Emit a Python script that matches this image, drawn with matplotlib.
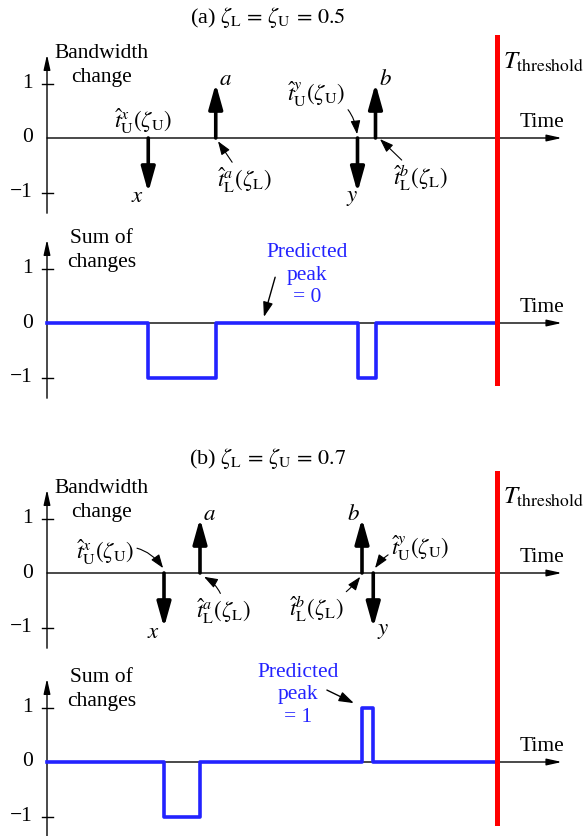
import matplotlib
matplotlib.use("Agg")
import numpy as np
from matplotlib import pyplot as plt

plt.rcParams["font.family"] = ["Liberation Serif", "DejaVu Serif"]
plt.rcParams["mathtext.fontset"] = "stix"

# ---- data -------------------------------------------------------------
titles = [r"(a) $\zeta_{\rm L}\,=\,\zeta_{\rm U}\,=\,0.5$",
          r"(b) $\zeta_{\rm L}\,=\,\zeta_{\rm U}\,=\,0.7$"]
event_names = ["x", "a", "y", "b"]
event_changes = [-1, 1, -1, 1]
event_times_a = [2.25, 3.75, 6.9, 7.3]
event_times_b = [2.6, 3.4, 7.25, 7.0]
t_threshold = 10.0
peak_a = 0
peak_b = 1
tick_values = [1, 0, -1]
tick_labels = ["1", "0", "\u22121"]

# ---- layout helpers -------------------------------------------------
W, H = 584, 836
X0, PX_X, PX_Y = 47, 45.0, 54.5
BLUE = "#2323ff"
FS = 15.5
FM = 16.5

fig = plt.figure(figsize=(W / 100, H / 100), dpi=100)


def make_axes(zero_row):
    ylo, yhi = -2.5, 2.5
    bottom = (H - zero_row + ylo * PX_Y) / H
    height = (yhi - ylo) * PX_Y / H
    ax = fig.add_axes([0, bottom, 1, height])
    ax.set_xlim(-X0 / PX_X, (W - X0) / PX_X)
    ax.set_ylim(ylo, yhi)
    ax.axis("off")
    return ax


def draw_frame(ax, ylabel):
    ax.annotate("", xy=(0, 1.53), xytext=(0, -1.38),
                arrowprops=dict(arrowstyle="-|>,head_length=0.9,head_width=0.2",
                                lw=1.0, color="black", shrinkA=0, shrinkB=0))
    ax.annotate("", xy=(11.44, 0), xytext=(0, 0),
                arrowprops=dict(arrowstyle="-|>,head_length=0.9,head_width=0.2",
                                lw=1.0, color="black", shrinkA=0, shrinkB=0))
    for v, lab in zip(tick_values, tick_labels):
        if v != 0:
            ax.plot([-0.11, 0.13], [v, v], color="black", lw=1.0)
        ax.text(-0.31, v, lab, ha="right", va="center", fontsize=FS)
    ax.text(10.5, 0.29, "Time", ha="left", va="center", fontsize=FS)
    ax.text(1.22, 1.33, ylabel, ha="center", va="center", fontsize=FS,
            linespacing=1.3)


def event_arrow(ax, t, change):
    ax.annotate("", xy=(t, change), xytext=(t, 0),
                arrowprops=dict(arrowstyle="-|>,head_length=1.5,head_width=0.42",
                                lw=2.6, color="black", shrinkA=0, shrinkB=0))


def pointer(ax, text, xy_text, xy_tip, rad, ha="center"):
    ax.annotate(text, xy=xy_tip, xytext=xy_text, ha=ha, va="center", fontsize=FM,
                arrowprops=dict(arrowstyle="-|>,head_length=0.5,head_width=0.18",
                                lw=0.8, color="black", shrinkA=0, shrinkB=0,
                                connectionstyle=f"arc3,rad={rad}"))


def step_sum(ax, times, changes):
    order = np.argsort(times)
    ts = np.asarray(times)[order]
    cs = np.cumsum(np.asarray(changes)[order])
    xs = np.concatenate([[0], ts, [t_threshold]])
    ys = np.concatenate([[0], cs, [cs[-1]]])
    ax.step(xs, ys, where="post", color=BLUE, lw=2.6, zorder=3)


def t_hat(sym, sub, zeta):
    return rf"$\hat{{t}}_{{\rm {sub}}}^{{{sym}}}(\zeta_{{\rm {zeta}}})$"


# ---- panel (a) ------------------------------------------------------
fig.text(268 / W, 1 - 17 / H, titles[0], ha="center", va="center", fontsize=16)

ax1 = make_axes(138)
draw_frame(ax1, "Bandwidth\nchange")
for t, c in zip(event_times_a, event_changes):
    event_arrow(ax1, t, c)
ax1.text(2.0, -1.08, "$x$", ha="center", va="center", fontsize=FM)
ax1.text(3.96, 1.08, "$a$", ha="center", va="center", fontsize=FM)
ax1.text(6.78, -1.1, "$y$", ha="center", va="center", fontsize=FM)
ax1.text(7.53, 1.08, "$b$", ha="center", va="center", fontsize=FM)
ax1.text(2.13, 0.31, t_hat("x", "U", "U"), ha="center", va="center", fontsize=FM)
pointer(ax1, t_hat("a", "L", "L"), (4.38, -0.77), (3.8, -0.06), 0.0)
pointer(ax1, t_hat("y", "U", "U"), (5.98, 0.81), (6.89, 0.07), -0.4)
pointer(ax1, t_hat("b", "L", "L"), (8.29, -0.73), (7.4, -0.02), 0.0)
ax1.text(10.13, 1.39, r"$T_{\rm threshold}$", ha="left", va="center", fontsize=18)

ax2 = make_axes(323)
draw_frame(ax2, "Sum of\nchanges")
step_sum(ax2, event_times_a, event_changes)
ax2.text(5.78, 0.88, f"Predicted\npeak\n= {peak_a}", ha="center", va="center",
         fontsize=FS, color=BLUE, linespacing=1.25)
ax2.annotate("", xy=(4.82, 0.11), xytext=(5.07, 0.84),
             arrowprops=dict(arrowstyle="-|>,head_length=0.9,head_width=0.3",
                             lw=1.0, color="black", shrinkA=0, shrinkB=0))
ax2.plot([t_threshold, t_threshold], [-1.1, 5.25], color="red", lw=3.6,
         clip_on=False, zorder=4)

# ---- panel (b) ------------------------------------------------------
fig.text(268 / W, 1 - 459 / H, titles[1], ha="center", va="center", fontsize=16)

ax3 = make_axes(573)
draw_frame(ax3, "Bandwidth\nchange")
for t, c in zip(event_times_b, event_changes):
    event_arrow(ax3, t, c)
ax3.text(2.36, -1.1, "$x$", ha="center", va="center", fontsize=FM)
ax3.text(3.62, 1.08, "$a$", ha="center", va="center", fontsize=FM)
ax3.text(7.47, -1.06, "$y$", ha="center", va="center", fontsize=FM)
ax3.text(6.82, 1.08, "$b$", ha="center", va="center", fontsize=FM)
pointer(ax3, t_hat("x", "U", "U"), (1.29, 0.39), (2.58, 0.09), -0.4)
pointer(ax3, t_hat("a", "L", "L"), (3.93, -0.7), (3.49, -0.07), 0.3)
pointer(ax3, t_hat("b", "L", "L"), (5.98, -0.66), (6.96, -0.07), 0.15)
pointer(ax3, t_hat("y", "U", "U"), (8.29, 0.46), (7.29, 0.09), 0.3)
ax3.text(10.13, 1.38, r"$T_{\rm threshold}$", ha="left", va="center", fontsize=18)

ax4 = make_axes(762)
draw_frame(ax4, "Sum of\nchanges")
step_sum(ax4, event_times_b, event_changes)
ax4.text(5.58, 1.23, f"Predicted\npeak\n= {peak_b}", ha="center", va="center",
         fontsize=FS, color=BLUE, linespacing=1.25)
ax4.annotate("", xy=(6.82, 1.08), xytext=(6.22, 1.32),
             arrowprops=dict(arrowstyle="-|>,head_length=0.9,head_width=0.3",
                             lw=1.0, color="black", shrinkA=0, shrinkB=0))
ax4.plot([t_threshold, t_threshold], [-1.12, 5.3], color="red", lw=3.6,
         clip_on=False, zorder=4)

fig.savefig("out.png", dpi=100)
